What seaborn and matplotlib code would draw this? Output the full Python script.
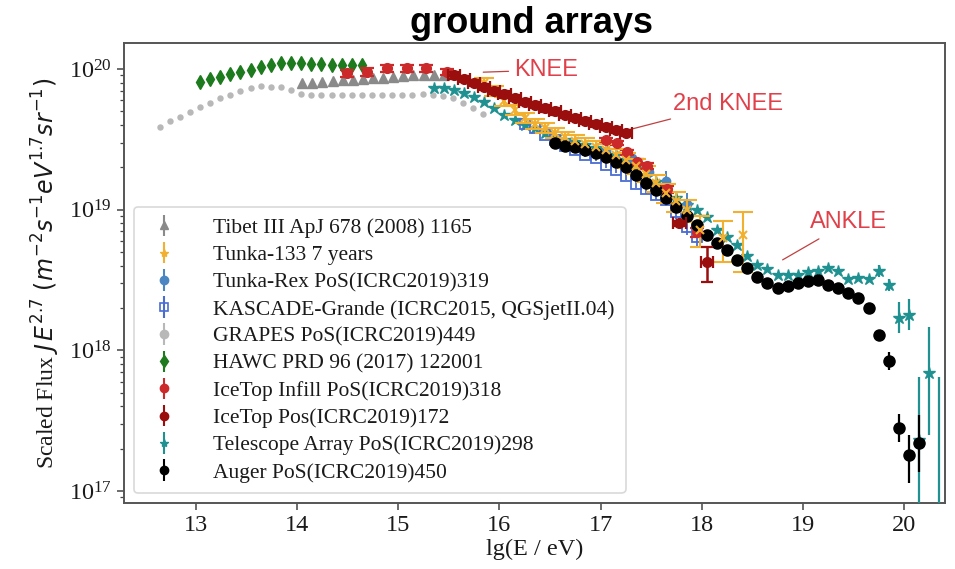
import numpy as np
import matplotlib
matplotlib.use("Agg")
import matplotlib.pyplot as plt
import seaborn as sns

# ---------------- data: lg(E/eV) and scaled flux J*E^2.7 in units of 1e19 ----------------
grapes_lgE = [12.64, 12.74, 12.84, 12.94, 13.04, 13.14, 13.24, 13.34, 13.44, 13.54, 13.64,
              13.74, 13.84, 13.94, 14.04, 14.14, 14.24, 14.34, 14.44, 14.54, 14.64, 14.74,
              14.84, 14.94, 15.04, 15.14, 15.24, 15.34, 15.44, 15.54, 15.64, 15.74, 15.84]
grapes_flux = [3.87, 4.27, 4.56, 4.94, 5.37, 5.73, 6.22, 6.53, 6.98, 7.33, 7.57,
               7.5, 7.4, 7.1, 6.6, 6.5, 6.5, 6.5, 6.5, 6.5, 6.5, 6.5,
               6.5, 6.5, 6.5, 6.5, 6.6, 6.5, 6.4, 6.2, 5.7, 5.3, 4.8]

hawc_lgE = [13.04, 13.14, 13.24, 13.34, 13.44, 13.54, 13.64, 13.74, 13.84, 13.94, 14.04,
            14.14, 14.24, 14.34, 14.44, 14.54, 14.64]
hawc_flux = [8.13, 8.45, 8.81, 9.17, 9.48, 9.84, 10.4, 10.7, 11.0, 11.1, 11.0,
             10.9, 10.8, 10.7, 10.7, 10.7, 10.6]

tibet_lgE = [14.05, 14.15, 14.25, 14.35, 14.45, 14.55, 14.65, 14.75, 14.85, 14.95, 15.05,
             15.15, 15.25, 15.35, 15.45]
tibet_flux = [7.9, 8.0, 8.1, 8.2, 8.3, 8.4, 8.5, 8.6, 8.7, 8.8, 8.9, 9.0, 9.05, 9.1, 9.1]

infill_lgE = [14.49, 14.69, 14.89, 15.09, 15.27, 15.48, 17.05, 17.16, 17.26, 17.36, 17.46,
              17.66, 17.95]
infill_flux = [9.3, 9.57, 10.1, 10.1, 10.1, 9.6, 3.13, 2.98, 2.57, 2.18, 2.05, 1.40, 0.69]
infill_rel = [0.06, 0.06, 0.05, 0.05, 0.05, 0.05, 0.04, 0.04, 0.04, 0.05, 0.05, 0.06, 0.08]

icetop_lgE = [15.55, 15.65, 15.75, 15.85, 15.95, 16.05, 16.15, 16.25, 16.35, 16.45, 16.55,
              16.65, 16.75, 16.85, 16.95, 17.05, 17.15, 17.25, 17.78, 18.05]
icetop_flux = [9.0, 8.5, 8.0, 7.5, 7.0, 6.6, 6.2, 5.85, 5.55, 5.25, 5.0,
               4.75, 4.5, 4.3, 4.1, 3.9, 3.7, 3.5, 0.80, 0.425]
icetop_rel = [0.05, 0.05, 0.05, 0.05, 0.05, 0.05, 0.05, 0.05, 0.05, 0.05, 0.05,
              0.05, 0.05, 0.05, 0.05, 0.05, 0.05, 0.05, 0.04, 0.28]

ta_lgE = [15.35, 15.45, 15.55, 15.65, 15.75, 15.85, 15.95, 16.05, 16.15, 16.25, 16.35,
          16.45, 16.55, 16.65, 16.75, 16.85, 16.95, 17.05, 17.15, 17.25, 17.35, 17.45,
          17.55, 17.65, 17.75, 17.85, 17.95, 18.05, 18.15, 18.25, 18.35, 18.45, 18.55,
          18.65, 18.75, 18.85, 18.95, 19.05, 19.15, 19.25, 19.35, 19.45, 19.55, 19.65,
          19.75, 19.85, 19.95, 20.05, 20.15, 20.25, 20.35]
ta_flux = [7.33, 7.3, 7.1, 6.75, 6.3, 5.85, 5.3, 4.7, 4.35, 4.0, 3.8,
           3.5, 3.3, 3.13, 3.03, 2.88, 2.75, 2.66, 2.45, 2.26, 1.98, 1.71,
           1.57, 1.43, 1.21, 1.08, 0.995, 0.888, 0.718, 0.640, 0.561, 0.469, 0.405,
           0.379, 0.344, 0.344, 0.344, 0.361, 0.367, 0.385, 0.367, 0.321, 0.327, 0.321,
           0.367, 0.292, 0.170, 0.179, 0.0231, 0.069, 0.002]
# error bar half-widths in decades (down, up)
ta_dlo = [0.01] * 44 + [0.04, 0.04, 0.11, 0.11, 1.5, 0.44, 1.5]
ta_dhi = [0.01] * 44 + [0.04, 0.04, 0.11, 0.11, 0.45, 0.33, 1.51]

auger_lgE = [16.55, 16.65, 16.75, 16.85, 16.95, 17.05, 17.15, 17.25, 17.35, 17.45, 17.55,
             17.65, 17.75, 17.85, 17.95, 18.05, 18.15, 18.25, 18.35, 18.45, 18.55, 18.65,
             18.75, 18.85, 18.95, 19.05, 19.15, 19.25, 19.35, 19.45, 19.55, 19.65, 19.75,
             19.85, 19.95, 20.05, 20.15]
auger_flux = [2.98, 2.84, 2.79, 2.66, 2.53, 2.37, 2.18, 2.01, 1.77, 1.55, 1.38,
              1.21, 1.04, 0.902, 0.778, 0.661, 0.580, 0.517, 0.439, 0.385, 0.333, 0.301,
              0.278, 0.287, 0.301, 0.311, 0.316, 0.292, 0.278, 0.256, 0.236, 0.200, 0.129,
              0.0841, 0.0281, 0.0181, 0.0220]
auger_dlo = [0.005] * 33 + [0.064, 0.10, 0.20, 0.21]
auger_dhi = [0.005] * 33 + [0.064, 0.10, 0.14, 0.20]

kg_lgE = [16.25, 16.35, 16.45, 16.55, 16.65, 16.75, 16.85, 16.95, 17.05, 17.15, 17.25,
          17.35, 17.45, 17.55, 17.65, 17.75, 17.85, 17.95]
kg_flux = [4.06, 3.81, 3.40, 3.13, 2.84, 2.66, 2.45, 2.33, 2.08, 1.92, 1.74,
           1.52, 1.40, 1.27, 1.17, 0.96, 0.754, 0.640]
kg_rel = [0.03, 0.03, 0.03, 0.03, 0.03, 0.03, 0.04, 0.04, 0.05, 0.05, 0.06,
          0.06, 0.07, 0.08, 0.09, 0.10, 0.12, 0.14]

rex_lgE = [17.05, 17.31, 17.48, 17.65, 17.85]
rex_flux = [2.6, 2.33, 1.85, 1.60, 1.10]
rex_rel = [0.10, 0.12, 0.14, 0.17, 0.20]

tunka_lgE = [15.85, 15.95, 16.05, 16.15, 16.25, 16.35, 16.45, 16.55, 16.65, 16.75, 16.85,
             16.95, 17.05, 17.15, 17.25, 17.35, 17.45, 17.55, 17.65, 17.75, 17.85, 17.98,
             18.21, 18.41]
tunka_flux = [8.0, 7.0, 5.9, 5.1, 4.5, 4.1, 3.8, 3.5, 3.3, 3.1, 2.95,
              2.8, 2.65, 2.45, 2.25, 2.05, 1.80, 1.55, 1.32, 1.15, 1.0, 0.72,
              0.63, 0.66]
tunka_rel = [0.08, 0.08, 0.08, 0.08, 0.08, 0.08, 0.08, 0.08, 0.09, 0.09, 0.10,
             0.10, 0.10, 0.11, 0.12, 0.12, 0.13, 0.14, 0.15, 0.16, 0.18, 0.25,
             0.33, 0.45]

labels = ["Tibet III ApJ 678 (2008) 1165",
          "Tunka-133 7 years",
          "Tunka-Rex PoS(ICRC2019)319",
          "KASCADE-Grande (ICRC2015, QGSjetII.04)",
          "GRAPES PoS(ICRC2019)449",
          "HAWC PRD 96 (2017) 122001",
          "IceTop Infill PoS(ICRC2019)318",
          "IceTop Pos(ICRC2019)172",
          "Telescope Array PoS(ICRC2019)298",
          "Auger PoS(ICRC2019)450"]

# ---------------- style ----------------
sns.set_theme(style="ticks")
plt.rcParams["font.family"] = ["Liberation Serif", "DejaVu Serif"]
plt.rcParams["mathtext.fontset"] = "dejavusans"
plt.rcParams["axes.edgecolor"] = "#555555"
plt.rcParams["axes.linewidth"] = 1.4

C = {
    "tibet": "#8a8a8a", "tunka": "#f2b030", "rex": "#4a86c2", "kg": "#4a6cd0",
    "grapes": "#b8b8b8", "hawc": "#1d7a1d", "infill": "#cc2a2a", "icetop": "#9a0e0e",
    "ta": "#1f9191", "auger": "#000000",
}
S = 1e19


def arr(v):
    return np.asarray(v, dtype=float)


def rel_err(flux, rel):
    f = arr(flux) * S
    r = arr(rel)
    return np.vstack([f * r, f * r])


def dex_err(flux, dlo, dhi):
    f = arr(flux) * S
    return np.vstack([f - f * 10 ** (-arr(dlo)), f * 10 ** arr(dhi) - f])


fig = plt.figure(figsize=(9.55, 5.69), dpi=100)
ax = fig.add_axes([0.1298, 0.1160, 0.8597, 0.8084])
ax.set_yscale("log")

ax.errorbar(grapes_lgE, arr(grapes_flux) * S, fmt="o", ms=3.6, color=C["grapes"], zorder=2)
ax.errorbar(tibet_lgE, arr(tibet_flux) * S, fmt="^", ms=7, color=C["tibet"], zorder=3)
ax.errorbar(hawc_lgE, arr(hawc_flux) * S, fmt="d", ms=7, color=C["hawc"], zorder=3)
ax.errorbar(infill_lgE, arr(infill_flux) * S, yerr=rel_err(infill_flux, infill_rel),
            fmt="o", ms=7, color=C["infill"], elinewidth=1.6, capsize=5, capthick=1.6, zorder=5)
ax.errorbar(ta_lgE, arr(ta_flux) * S, yerr=dex_err(ta_flux, ta_dlo, ta_dhi),
            fmt="*", ms=9, color=C["ta"], elinewidth=1.6, zorder=4)
ax.errorbar(kg_lgE, arr(kg_flux) * S, yerr=rel_err(kg_flux, kg_rel), fmt="s", ms=6.5,
            mfc="none", mew=1.3, color=C["kg"], elinewidth=1.3, zorder=4)
ax.errorbar(rex_lgE, arr(rex_flux) * S, yerr=rel_err(rex_flux, rex_rel), fmt="o", ms=6,
            color=C["rex"], elinewidth=1.4, zorder=4)
ax.errorbar(auger_lgE, arr(auger_flux) * S, yerr=dex_err(auger_flux, auger_dlo, auger_dhi),
            fmt="o", ms=8, color=C["auger"], elinewidth=1.6, zorder=5)
ax.errorbar(icetop_lgE, arr(icetop_flux) * S, yerr=rel_err(icetop_flux, icetop_rel),
            xerr=0.06, fmt="o", ms=7, color=C["icetop"], elinewidth=1.8, capsize=4,
            capthick=1.6, zorder=6)
ax.errorbar(tunka_lgE, arr(tunka_flux) * S, yerr=rel_err(tunka_flux, tunka_rel), fmt="x",
            ms=6, mew=1.5, color=C["tunka"], elinewidth=1.5, capsize=7, capthick=1.8, zorder=5)

# legend proxies: marker with a vertical bar only
proxy_style = [("^", C["tibet"], {}), ("*", C["tunka"], {}), ("o", C["rex"], {}),
               ("s", C["kg"], {"mfc": "none", "mew": 1.2}), ("o", C["grapes"], {}),
               ("d", C["hawc"], {}), ("o", C["infill"], {}), ("o", C["icetop"], {}),
               ("*", C["ta"], {}), ("o", C["auger"], {})]
handles = []
for m, c, kw in proxy_style:
    h = ax.errorbar([np.nan], [np.nan], yerr=[[1.0], [1.0]], fmt=m, ms=6, color=c,
                    elinewidth=1.5, **kw)
    handles.append(h)
leg = ax.legend(handles, labels, loc="lower left", fontsize=15.5, frameon=True,
                borderaxespad=0.45, labelspacing=0.33, handlelength=1.8, handletextpad=1.4,
                borderpad=0.5)
leg.get_frame().set_edgecolor("#d0d0d0")
leg.get_frame().set_linewidth(1.2)
leg.set_zorder(1)
for t in leg.get_texts():
    t.set_color("#1a1a1a")

ax.set_xlim(12.288, 20.405)
ax.set_ylim(10 ** 16.915, 10 ** 20.185)
ax.set_xticks(range(13, 21))
ax.tick_params(axis="both", which="major", labelsize=17.5, length=5, width=1.1,
               direction="out", colors="#444444", labelcolor="#1a1a1a")
ax.tick_params(axis="y", which="minor", length=3, width=0.9, colors="#444444")
ax.set_xlabel("lg(E / eV)", fontsize=17.5, color="#1a1a1a", labelpad=2)
ax.set_ylabel(r"Scaled Flux $J\,E^{2.7}\ (m^{-2}s^{-1}eV^{1.7}sr^{-1})$", fontsize=17,
              color="#1a1a1a", labelpad=5)

# hand-drawn style annotations
red = "#e0404a"
ann = dict(color=red, fontsize=17, family=["Liberation Sans", "DejaVu Sans"], va="center",
           ha="left")
ax.annotate("KNEE", xy=(15.84, 9.5e19), xytext=(16.15, 9.84e19), textcoords="data",
            arrowprops=dict(arrowstyle="-", color="#c04040", lw=0.9, shrinkA=2, shrinkB=0), **ann)
ax.annotate("2nd KNEE", xy=(17.19, 3.56e19), xytext=(17.72, 5.64e19), textcoords="data",
            arrowprops=dict(arrowstyle="-", color="#c04040", lw=0.9, shrinkA=2, shrinkB=0), **ann)
ax.annotate("ANKLE", xy=(18.80, 4.4e18), xytext=(19.07, 8.2e18), textcoords="data",
            arrowprops=dict(arrowstyle="-", color="#c04040", lw=0.9, shrinkA=4, shrinkB=0), **ann)

fig.text(0.5565, 1 - 33 / 569, "ground arrays", fontsize=26, fontweight="bold", color="black",
         family=["Liberation Sans", "DejaVu Sans"], ha="center", va="baseline")

fig.savefig("out.png", dpi=100)
